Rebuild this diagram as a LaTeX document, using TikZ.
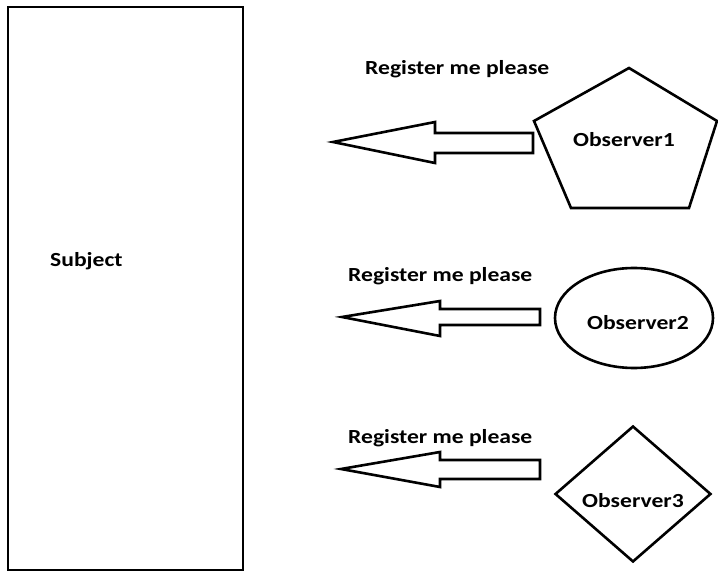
\documentclass[tikz,border=0pt]{standalone}
\usepackage{fontspec}
\newfontfamily\diagfont{Carlito}[FakeStretch=1.18]
\usetikzlibrary{shapes.geometric,positioning}

\begin{document}
\begin{tikzpicture}[
    x=1pt, y=-1pt,
    outline/.style={draw, line width=2.6pt, line join=miter},
    msgtext/.style={font=\diagfont\bfseries\fontsize{20}{24}\selectfont, inner sep=0pt},
    obsbox/.style={outline, inner sep=0pt, font=\diagfont\bfseries\fontsize{20}{24}\selectfont}
]
\useasboundingbox (0,0) rectangle (718,577);

% Subject column on the left
\node[outline, minimum width=235pt, minimum height=563pt, inner sep=0pt] (subject) at (125.5,288.5) {};
\node[msgtext, anchor=base west] (subjectname) at (50,267) {Subject};

% Observer1 (wide pentagon)
\coordinate (pTop) at (629,68);
\coordinate (pRight) at (717,121);
\coordinate (pBotR) at (689,208);
\coordinate (pBotL) at (571,208);
\coordinate (pLeft) at (534,121);
\draw[outline] (pTop) -- (pRight) -- (pBotR) -- (pBotL) -- (pLeft) -- cycle;
\node[msgtext, anchor=base west] (obs1) at (573,147) {Observer1};

% Observer2 (ellipse)
\node[obsbox, ellipse, minimum width=158pt, minimum height=100pt] (obs2) at (634,318) {};
\node[msgtext, anchor=base west] (obs2name) at (587,330) {Observer2};

% Observer3 (diamond)
\node[obsbox, diamond, minimum width=156pt, minimum height=136pt] (obs3) at (633,494) {};
\node[msgtext, anchor=base west] (obs3name) at (582,507) {Observer3};

% Block arrows pointing at the subject
\draw[outline] (533,133) -- (435,133) -- (435,122) -- (333,142) -- (435,163) -- (435,153) -- (533,153) -- cycle;
\draw[outline] (540,309) -- (440,309) -- (440,301) -- (342,317) -- (440,336) -- (440,325) -- (540,325) -- cycle;
\draw[outline] (540,460) -- (440,460) -- (440,452) -- (341,469) -- (440,487) -- (440,479) -- (540,479) -- cycle;

% Request labels
\node[msgtext, anchor=base west] (req1) at (365,75) {Register me please};
\node[msgtext, anchor=base west] (req2) at (348,282) {Register me please};
\node[msgtext, anchor=base west] (req3) at (348,443) {Register me please};
\end{tikzpicture}
\end{document}
